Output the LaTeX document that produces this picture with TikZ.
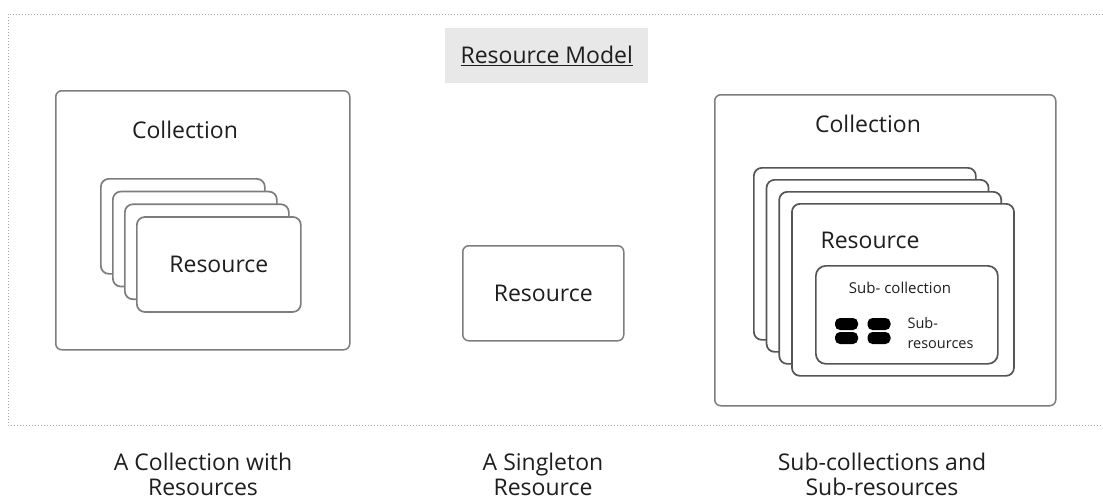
\documentclass[tikz,border=0pt]{standalone}
\usepackage{fontspec}
\setmainfont{Open Sans}
\usetikzlibrary{positioning}
\definecolor{framegray}{RGB}{165,165,165}
\definecolor{boxgray}{RGB}{125,125,125}
\definecolor{cardgray}{RGB}{85,85,85}
\definecolor{titlebg}{RGB}{232,232,232}
\definecolor{inkgray}{RGB}{30,30,30}
\tikzset{
  framebox/.style={draw=boxgray, line width=1.5pt, rounded corners=6pt, fill=white, anchor=north west, inner sep=0pt},
  cardbox/.style={draw=cardgray, line width=1.7pt, rounded corners=8pt, fill=white, anchor=north west, inner sep=0pt},
  boxlabel/.style={font=\fontsize{23}{27}\selectfont, text=inkgray},
  smalllabel/.style={font=\fontsize{15}{18}\selectfont, text=inkgray},
  caption/.style={font=\fontsize{23}{25}\selectfont, text=inkgray, align=center, inner sep=0pt},
  pill/.style={fill=black, rounded corners=5pt, minimum width=23pt, minimum height=12pt, inner sep=0pt}
}
\begin{document}
\begin{tikzpicture}[x=1pt,y=-1pt]
  \useasboundingbox (0,0) rectangle (1103,499);
  % outer frame, open on the right
  \draw[framegray, dotted, line width=1pt] (1103,14) -- (8,14) -- (8,425) -- (1103,425);
  \node[fill=titlebg, minimum width=203pt, minimum height=55pt, anchor=north west, inner sep=0pt] (title) at (445,28) {};
  \node[boxlabel] (titletext) at (title) {\underline{Resource Model}};
  % collection with resources
  \node[framebox, minimum width=294pt, minimum height=259pt] (leftbox) at (55,90) {};
  \node[boxlabel] (leftcoll) at (185,130) {Collection};
  \foreach \i in {0,...,3}
    \node[cardbox, draw=boxgray, minimum width=164pt, minimum height=95pt] (lcard\i) at ({100+12*\i},{178+12.7*\i}) {};
  \node[boxlabel] (lres) at (lcard3) {Resource};
  % singleton
  \node[framebox, minimum width=161pt, minimum height=95pt] (single) at (462,245) {};
  \node[boxlabel] (sres) at (single) {Resource};
  % sub-collections
  \node[framebox, minimum width=341pt, minimum height=311pt] (rightbox) at (714,94) {};
  \node[boxlabel] (rightcoll) at (868,124) {Collection};
  \foreach \i in {0,...,3}
    \node[cardbox, minimum width=222pt, minimum height=172pt] (rcard\i) at ({753+12.7*\i},{167+12*\i}) {};
  \node[boxlabel, anchor=west] (rres) at (817,240) {Resource};
  \node[cardbox, rounded corners=10pt, minimum width=182pt, minimum height=98pt] (subcoll) at (815,265) {};
  \node[smalllabel] (subtext) at (900,288) {Sub- collection};
  \node[pill] (p1) at (846.5,324) {};
  \node[pill] (p2) at (846.5,338) {};
  \node[pill] (p3) at (879,324) {};
  \node[pill] (p4) at (879,338) {};
  \node[smalllabel, anchor=west, align=left, font=\fontsize{14.5}{20}\selectfont] (subres) at (904,333) {Sub-\\resources};
  % captions
  \node[caption] (capleft) at (203,474) {A Collection with\\Resources};
  \node[caption] (capmid) at (543,474) {A Singleton\\Resource};
  \node[caption] (capright) at (882,474) {Sub-collections and\\Sub-resources};
\end{tikzpicture}
\end{document}
